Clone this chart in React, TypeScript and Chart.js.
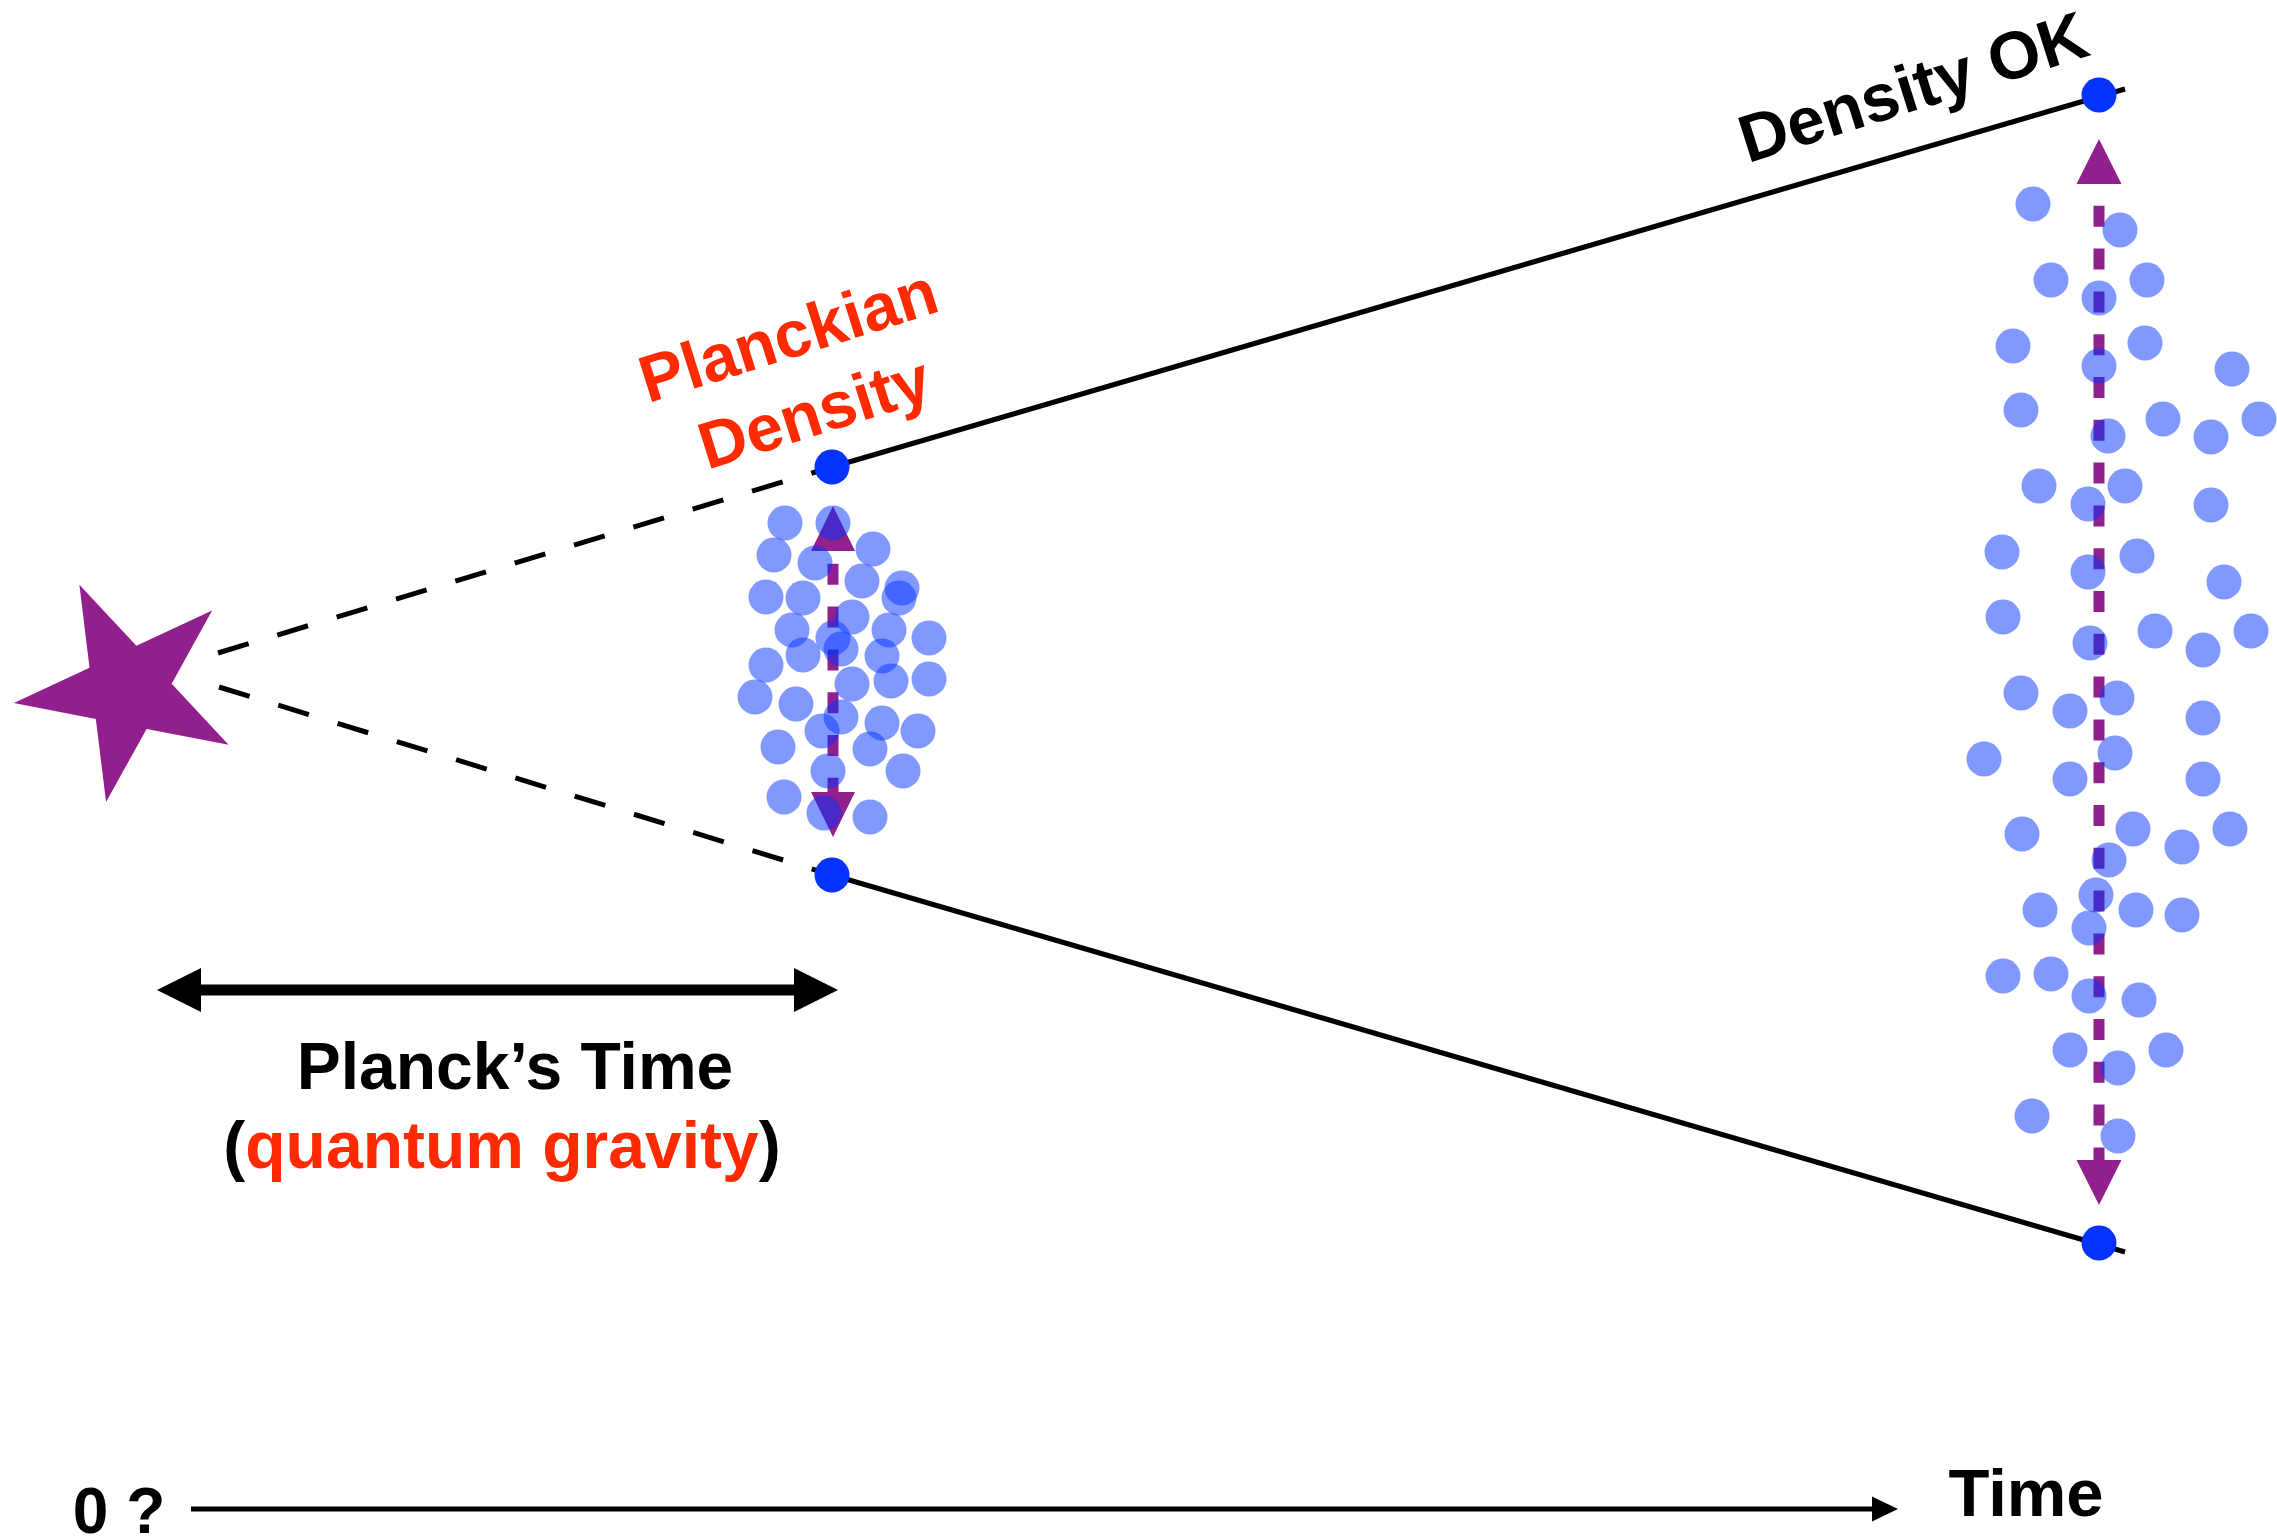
import React, { useEffect, useRef } from 'react';
import { Chart, registerables } from 'chart.js';

Chart.register(...registerables);

const W = 2277;
const H = 1537;

// ---- data (diagram coordinates: x = time direction, y = spread, y grows downward) ----
const originStar = [{ x: 128, y: 689 }];

const upperEdgeEarly = [{ x: 218, y: 653 }, { x: 832, y: 467 }];
const lowerEdgeEarly = [{ x: 219, y: 687 }, { x: 832, y: 875 }];
const upperEdgeLate = [{ x: 832, y: 467 }, { x: 2125, y: 89 }];
const lowerEdgeLate = [{ x: 832, y: 875 }, { x: 2125, y: 1252 }];

const edgeMarkers = [
  { x: 832, y: 467 },
  { x: 832, y: 875 },
  { x: 2099, y: 95 },
  { x: 2099, y: 1243 },
];

const planckSpreadArrow = [{ x: 833, y: 550 }, { x: 833, y: 793 }];
const lateSpreadArrow = [{ x: 2099, y: 183 }, { x: 2099, y: 1161 }];
const planckTimeArrow = [{ x: 200, y: 990 }, { x: 795, y: 990 }];
const timeAxisArrow = [{ x: 191, y: 1509 }, { x: 1873, y: 1509 }];

const planckCluster = [
  { x: 785, y: 523 }, { x: 833, y: 523 }, { x: 774, y: 555 }, { x: 815, y: 563 },
  { x: 873, y: 549 }, { x: 862, y: 581 }, { x: 902, y: 588 }, { x: 899, y: 598 },
  { x: 766, y: 597 }, { x: 803, y: 598 }, { x: 852, y: 617 }, { x: 792, y: 630 },
  { x: 833, y: 638 }, { x: 841, y: 649 }, { x: 889, y: 630 }, { x: 929, y: 638 },
  { x: 766, y: 665 }, { x: 803, y: 655 }, { x: 882, y: 656 }, { x: 852, y: 684 },
  { x: 891, y: 681 }, { x: 929, y: 679 }, { x: 755, y: 697 }, { x: 796, y: 704 },
  { x: 841, y: 717 }, { x: 822, y: 731 }, { x: 882, y: 723 }, { x: 918, y: 731 },
  { x: 778, y: 747 }, { x: 870, y: 749 }, { x: 828, y: 771 }, { x: 903, y: 771 },
  { x: 784, y: 797 }, { x: 824, y: 813 }, { x: 870, y: 817 },
];

const lateCluster = [
  { x: 2033, y: 204 }, { x: 2120, y: 230 }, { x: 2051, y: 280 }, { x: 2147, y: 280 },
  { x: 2099, y: 298 }, { x: 2013, y: 346 }, { x: 2145, y: 343 }, { x: 2099, y: 366 },
  { x: 2232, y: 369 }, { x: 2021, y: 410 }, { x: 2163, y: 419 }, { x: 2108, y: 436 },
  { x: 2211, y: 437 }, { x: 2259, y: 419 }, { x: 2039, y: 486 }, { x: 2125, y: 486 },
  { x: 2088, y: 504 }, { x: 2211, y: 505 }, { x: 2002, y: 552 }, { x: 2137, y: 556 },
  { x: 2088, y: 572 }, { x: 2224, y: 582 }, { x: 2003, y: 617 }, { x: 2155, y: 631 },
  { x: 2090, y: 643 }, { x: 2203, y: 650 }, { x: 2251, y: 631 },
  { x: 2021, y: 693 }, { x: 2070, y: 711 }, { x: 2117, y: 698 }, { x: 2203, y: 718 },
  { x: 1984, y: 759 }, { x: 2115, y: 753 }, { x: 2070, y: 779 }, { x: 2203, y: 779 },
  { x: 2022, y: 834 }, { x: 2133, y: 829 }, { x: 2182, y: 847 }, { x: 2230, y: 829 },
  { x: 2109, y: 860 }, { x: 2096, y: 895 }, { x: 2040, y: 910 }, { x: 2136, y: 910 },
  { x: 2182, y: 915 }, { x: 2089, y: 928 }, { x: 2003, y: 976 }, { x: 2051, y: 974 },
  { x: 2089, y: 996 }, { x: 2139, y: 1000 }, { x: 2070, y: 1050 }, { x: 2166, y: 1050 },
  { x: 2118, y: 1068 }, { x: 2032, y: 1116 }, { x: 2118, y: 1136 },
];

// ---- text annotations ----
const RED = '#FF2A00';
const BLACK = '#000000';
const annotations = [
  { parts: [{ t: 'Planckian', c: RED }], x: 795, y: 357, angle: -17.5, size: 66 },
  { parts: [{ t: 'Density', c: RED }], x: 821, y: 434, angle: -17.5, size: 66 },
  { parts: [{ t: 'Density OK', c: BLACK }], x: 1920, y: 109, angle: -17.5, size: 67 },
  { parts: [{ t: 'Planck\u2019s Time', c: BLACK }], x: 515, y: 1089, angle: 0, size: 66 },
  {
    parts: [
      { t: '(', c: BLACK },
      { t: 'quantum gravity', c: RED },
      { t: ')', c: BLACK },
    ],
    x: 502, y: 1168, angle: 0, size: 66,
  },
  { parts: [{ t: 'Time', c: BLACK }], x: 2026, y: 1516, angle: 0, size: 67 },
  { parts: [{ t: '0 ?', c: BLACK }], x: 119, y: 1533, angle: 0, size: 64 },
];

const PURPLE = '#91208D';
const DARK_BLUE = '#0433FF';
const LIGHT_BLUE = 'rgba(4, 51, 255, 0.5)';
const FONT = '"Liberation Sans", Arial, Helvetica, sans-serif';

function makeStar(R: number, r: number, rotDeg: number, color: string) {
  const size = Math.ceil(2 * R + 4);
  const c = document.createElement('canvas');
  c.width = size;
  c.height = size;
  const g = c.getContext('2d')!;
  g.translate(size / 2, size / 2);
  g.beginPath();
  for (let i = 0; i < 10; i++) {
    const a = ((rotDeg + i * 36) * Math.PI) / 180;
    const rad = i % 2 === 0 ? R : r;
    const px = Math.sin(a) * rad;
    const py = -Math.cos(a) * rad;
    if (i === 0) g.moveTo(px, py);
    else g.lineTo(px, py);
  }
  g.closePath();
  g.fillStyle = color;
  g.fill();
  return c;
}

const arrowPlugin = {
  id: 'arrowHeads',
  afterDatasetDraw(chart: any, args: any) {
    const ds: any = chart.data.datasets[args.index];
    const head = ds.arrowHead;
    if (!head) return;
    const pts = args.meta.data;
    const ctx = chart.ctx as CanvasRenderingContext2D;
    const drawHead = (from: any, to: any) => {
      const dx = to.x - from.x;
      const dy = to.y - from.y;
      const len = Math.hypot(dx, dy);
      const ux = dx / len;
      const uy = dy / len;
      const px = -uy;
      const py = ux;
      const bx = to.x - ux;
      const by = to.y - uy;
      ctx.beginPath();
      ctx.moveTo(to.x + ux * head.length, to.y + uy * head.length);
      ctx.lineTo(bx + (px * head.width) / 2, by + (py * head.width) / 2);
      ctx.lineTo(bx - (px * head.width) / 2, by - (py * head.width) / 2);
      ctx.closePath();
      ctx.fillStyle = head.color;
      ctx.fill();
    };
    ctx.save();
    if (head.end) drawHead(pts[pts.length - 2], pts[pts.length - 1]);
    if (head.start) drawHead(pts[1], pts[0]);
    ctx.restore();
  },
};

const textPlugin = {
  id: 'diagramText',
  afterDatasetsDraw(chart: any) {
    const ctx = chart.ctx as CanvasRenderingContext2D;
    const xs = chart.scales.x;
    const ys = chart.scales.y;
    for (const a of annotations) {
      ctx.save();
      ctx.translate(xs.getPixelForValue(a.x), ys.getPixelForValue(a.y));
      ctx.rotate((a.angle * Math.PI) / 180);
      ctx.font = `bold ${a.size}px ${FONT}`;
      ctx.textAlign = 'left';
      ctx.textBaseline = 'alphabetic';
      const widths = a.parts.map((p) => ctx.measureText(p.t).width);
      const total = widths.reduce((s, w) => s + w, 0);
      let cx = -total / 2;
      a.parts.forEach((p, i) => {
        ctx.fillStyle = p.c;
        ctx.fillText(p.t, cx, 0);
        cx += widths[i];
      });
      ctx.restore();
    }
  },
};

const bgPlugin = {
  id: 'whiteBg',
  beforeDraw(chart: any) {
    const ctx = chart.ctx;
    ctx.save();
    ctx.fillStyle = '#ffffff';
    ctx.fillRect(0, 0, chart.width, chart.height);
    ctx.restore();
  },
};

export default function App() {
  const ref = useRef<HTMLCanvasElement>(null);

  useEffect(() => {
    const canvas = ref.current;
    if (!canvas) return;
    const star = makeStar(115, 44, -25, PURPLE);

    const lineDs = (data: any[], color: string, width: number, extra: any = {}) => ({
      data,
      showLine: true,
      borderColor: color,
      backgroundColor: color,
      borderWidth: width,
      pointRadius: 0,
      pointHoverRadius: 0,
      borderCapStyle: 'butt',
      tension: 0,
      fill: false,
      clip: false,
      ...extra,
    });

    const chart = new Chart(canvas, {
      type: 'scatter',
      data: {
        datasets: [
          {
            label: 'late cluster',
            data: lateCluster,
            pointRadius: 17.5,
            pointHoverRadius: 17.5,
            backgroundColor: LIGHT_BLUE,
            borderWidth: 0,
            clip: false,
            order: 0,
          } as any,
          {
            label: 'planck cluster',
            data: planckCluster,
            pointRadius: 17.5,
            pointHoverRadius: 17.5,
            backgroundColor: LIGHT_BLUE,
            borderWidth: 0,
            clip: false,
            order: 0,
          } as any,
          {
            label: 'edge markers',
            data: edgeMarkers,
            pointRadius: 17.5,
            pointHoverRadius: 17.5,
            backgroundColor: DARK_BLUE,
            borderWidth: 0,
            clip: false,
            order: 1,
          } as any,
          lineDs(planckSpreadArrow, PURPLE, 11, {
            borderDash: [21, 21.8],
            borderDashOffset: 29,
            order: 2,
            arrowHead: { start: true, end: true, length: 44, width: 44, color: PURPLE },
          }),
          lineDs(lateSpreadArrow, PURPLE, 11, {
            borderDash: [21, 21.8],
            borderDashOffset: 20,
            order: 2,
            arrowHead: { start: true, end: true, length: 44, width: 45, color: PURPLE },
          }),
          lineDs(upperEdgeEarly, BLACK, 5, { borderDash: [32, 30], order: 3 }),
          lineDs(lowerEdgeEarly, BLACK, 5, { borderDash: [32, 30], order: 3 }),
          lineDs(upperEdgeLate, BLACK, 5, { order: 3 }),
          lineDs(lowerEdgeLate, BLACK, 5, { order: 3 }),
          lineDs(planckTimeArrow, BLACK, 11, {
            order: 3,
            arrowHead: { start: true, end: true, length: 43, width: 44, color: BLACK },
          }),
          lineDs(timeAxisArrow, BLACK, 5, {
            order: 3,
            arrowHead: { start: false, end: true, length: 25, width: 25, color: BLACK },
          }),
          {
            label: 'origin',
            data: originStar,
            pointStyle: star,
            pointRadius: 10,
            pointHoverRadius: 10,
            clip: false,
            order: 4,
          } as any,
        ] as any,
      },
      options: {
        animation: false,
        responsive: false,
        maintainAspectRatio: false,
        devicePixelRatio: 1,
        events: [],
        layout: { padding: 0, autoPadding: false } as any,
        plugins: {
          legend: { display: false },
          tooltip: { enabled: false },
          title: { display: false },
        },
        scales: {
          x: { type: 'linear', display: false, min: 0, max: W },
          y: { type: 'linear', display: false, min: 0, max: H, reverse: true },
        },
      },
      plugins: [bgPlugin, arrowPlugin, textPlugin],
    } as any);

    return () => chart.destroy();
  }, []);

  return (
    <div style={{ position: 'fixed', left: 0, top: 0, width: W, height: H, background: '#fff' }}>
      <canvas ref={ref} width={W} height={H} style={{ display: 'block', width: W, height: H }} />
    </div>
  );
}
